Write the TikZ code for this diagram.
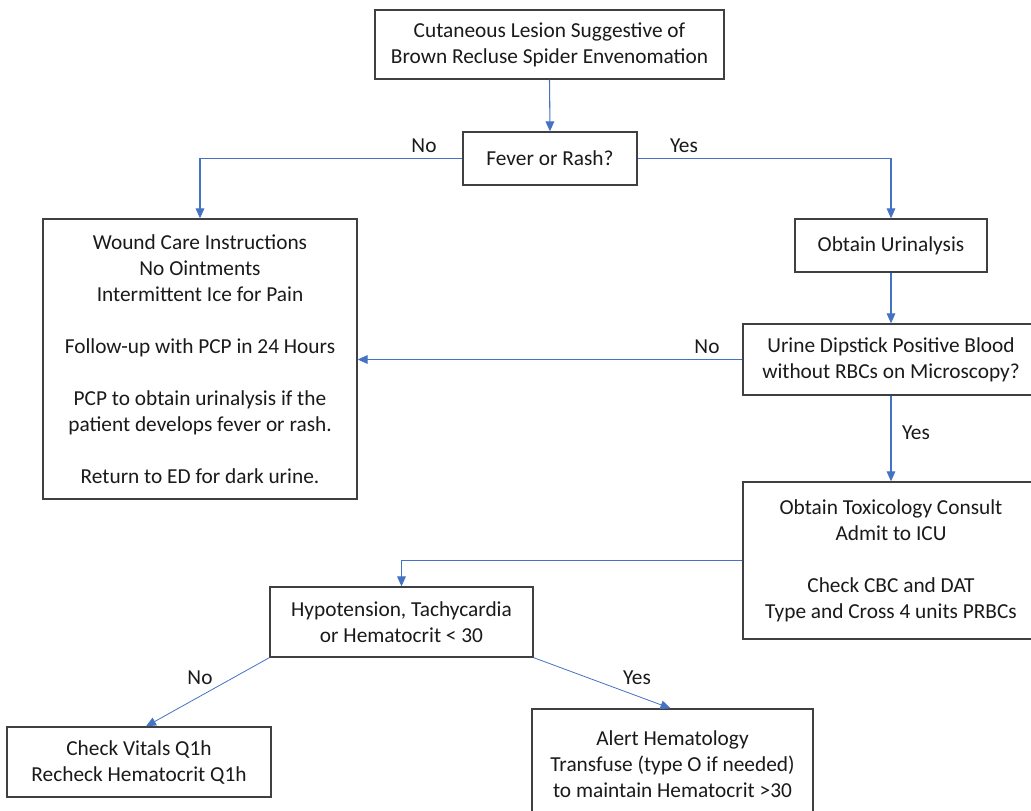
\documentclass[tikz,border=0pt]{standalone}
\usepackage{fontspec}
\setmainfont{Carlito}
\usetikzlibrary{arrows.meta}
\definecolor{arrowblue}{HTML}{4472C4}
\definecolor{boxgray}{HTML}{404040}
\definecolor{txt}{HTML}{1A1A1A}
\begin{document}
\begin{tikzpicture}[x=0.75pt,y=-0.75pt,
  box/.style={draw=boxgray, line width=1pt, fill=white, inner sep=0pt, align=center,
    text=txt, font=\fontsize{16}{19.5}\selectfont},
  conn/.style={draw=arrowblue, line width=0.8pt, -{Triangle[length=7.5pt,width=6.5pt]}},
  thinconn/.style={draw=arrowblue, line width=0.6pt, -{Triangle[length=7.5pt,width=6.5pt]}},
  lbl/.style={text=txt, font=\fontsize{16}{19.5}\selectfont, inner sep=0pt}]
\useasboundingbox (0,0) rectangle (1031,810);
\fill[white] (0,0) rectangle (1031,810);
\clip (0,0) rectangle (1031,810);

\node[box, minimum width={349*0.75pt}, minimum height={69*0.75pt}] (b1) at (549.5,44.5)
  {Cutaneous Lesion Suggestive of\\Brown Recluse Spider Envenomation};
\node[box, minimum width={174*0.75pt}, minimum height={53*0.75pt}] (fever) at (550,158.5)
  {Fever or Rash?};
\node[box, minimum width={314*0.75pt}, minimum height={280*0.75pt}] (wound) at (200,359)
  {Wound Care Instructions\\No Ointments\\Intermittent Ice for Pain\\[19.5pt]Follow-up with PCP in 24 Hours\\[19.5pt]PCP to obtain urinalysis if the\\patient develops fever or rash.\\[19.5pt]Return to ED for dark urine.};
\node[box, minimum width={192*0.75pt}, minimum height={53*0.75pt}] (urin) at (891,245.5)
  {Obtain Urinalysis};
\node[box, minimum width={296*0.75pt}, minimum height={71*0.75pt}] (dip) at (891,359.5)
  {Urine Dipstick Positive Blood\\without RBCs on Microscopy?};
\node[box, minimum width={296*0.75pt}, minimum height={157*0.75pt}] (tox) at (891,560.5)
  {Obtain Toxicology Consult\\Admit to ICU\\[19.5pt]Check CBC and DAT\\Type and Cross 4 units PRBCs};
\node[box, minimum width={263*0.75pt}, minimum height={70*0.75pt}] (hypo) at (401.5,622)
  {Hypotension, Tachycardia\\or Hematocrit < 30};
\node[box, minimum width={264*0.75pt}, minimum height={70*0.75pt}] (vitals) at (139,762)
  {Check Vitals Q1h\\Recheck Hematocrit Q1h};
\node[box, minimum width={281*0.75pt}, minimum height={110*0.75pt}] (alert) at (672.5,764)
  {Alert Hematology\\Transfuse (type O if needed)\\to maintain Hematocrit >30};

\draw[conn] (b1.south) -- (fever.north);
\draw[conn] (fever.west) -| (wound.north);
\draw[conn] (fever.east) -| (urin.north);
\draw[conn] (urin.south) -- (dip.north);
\draw[conn] (dip.west) -- (dip.west -| wound.east);
\draw[conn] (dip.south) -- (tox.north);
\draw[conn] (tox.west) -| (hypo.north);
\draw[thinconn] (hypo.south west) -- ([xshift={7*0.75pt}]vitals.north);
\draw[thinconn] (hypo.south east) -- ([xshift={-2*0.75pt}]alert.north);

\node[lbl] (lno1) at (424,146) {No};
\node[lbl] (lyes1) at (684,146) {Yes};
\node[lbl] (lno2) at (707,347) {No};
\node[lbl] (lyes2) at (916,433) {Yes};
\node[lbl] (lno3) at (200,678) {No};
\node[lbl] (lyes3) at (637,678) {Yes};
\end{tikzpicture}
\end{document}
